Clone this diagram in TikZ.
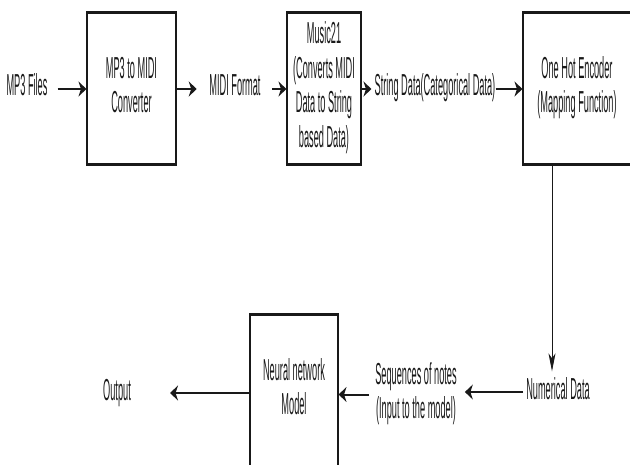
\documentclass[tikz,border=0pt]{standalone}
\usepackage{fontspec}
\setmainfont{Liberation Sans}
\usepackage{graphicx}
\usetikzlibrary{arrows.meta}
\newcommand\lbl[1]{\scalebox{1}[3.3]{\fontsize{9.2}{10.6}\selectfont\begin{tabular}{@{}c@{}}#1\end{tabular}}}
\begin{document}
\begin{tikzpicture}[x=1pt,y=-1pt,
  txt/.style={inner sep=0pt, text=black!90},
  blk/.style={draw=black!90, line width=1.1pt, minimum height=151pt, inner sep=0pt, text=black!90},
  edgeline/.style={line width=2.6pt, black!90},
  arr/.style={line width=2pt, black!90, -{Stealth[length=8pt,width=15pt,inset=2.5pt]}},
  varr/.style={line width=0.9pt, black!90, -{Stealth[length=18pt,width=7pt,inset=5pt]}}]
\useasboundingbox (0,0) rectangle (630,464);

% boxes
\node[blk, minimum width=89pt] (b1) at (131.5,88.5) {\lbl{MP3 to MIDI\\Converter}};
\node[blk, minimum width=74pt] (b2) at (324,88.5) {\lbl{Music21\\(Converts MIDI\\Data to String\\based Data)}};
\node[blk, minimum width=108pt] (b3) at (577,88.5) {\lbl{One Hot Encoder\\(Mapping Function)}};
\node[blk, minimum width=88pt] (b4) at (294,390.5) {\lbl{Neural network\\Model}};
\foreach \b in {b1,b2,b3,b4}{
  \draw[edgeline] (\b.north west) -- (\b.north east);
  \draw[edgeline] (\b.south west) -- (\b.south east);
}

% labels
\node[txt] (mp3) at (27,89) {\lbl{MP3 Files}};
\node[txt] (midi) at (235,89) {\lbl{MIDI Format}};
\node[txt] (str) at (435,89) {\lbl{String Data(Categorical Data)}};
\node[txt] (num) at (558,392) {\lbl{Numerical Data}};
\node[txt] (seq) at (416,394.5) {\lbl{Sequences of notes\\(Input to the model)}};
\node[txt] (out) at (117,393) {\lbl{Output}};
\coordinate (vx) at (552,0);

% connectors
\draw[arr, shorten <=10pt] (mp3.east) -- (mp3.east -| b1.west);
\draw[arr, shorten >=12.5pt] (b1.east |- midi) -- (midi.west);
\draw[arr, shorten <=11.5pt] (midi.east) -- (midi.east -| b2.west);
\draw[arr, shorten >=3pt] (b2.east |- str) -- (str.west);
\draw[arr] (str.east) -- (str.east -| b3.west);
\draw[varr, shorten >=3pt] (b3.south -| vx) -- (num.north -| vx);
\draw[arr, shorten <=3pt, shorten >=8pt] (num.west) -- (num.west -| seq.east);
\draw[arr, shorten <=6pt] (seq.west) -- (seq.west -| b4.east);
\draw[arr, shorten >=39pt] (b4.west |- out) -- (out.east);
\end{tikzpicture}
\end{document}
